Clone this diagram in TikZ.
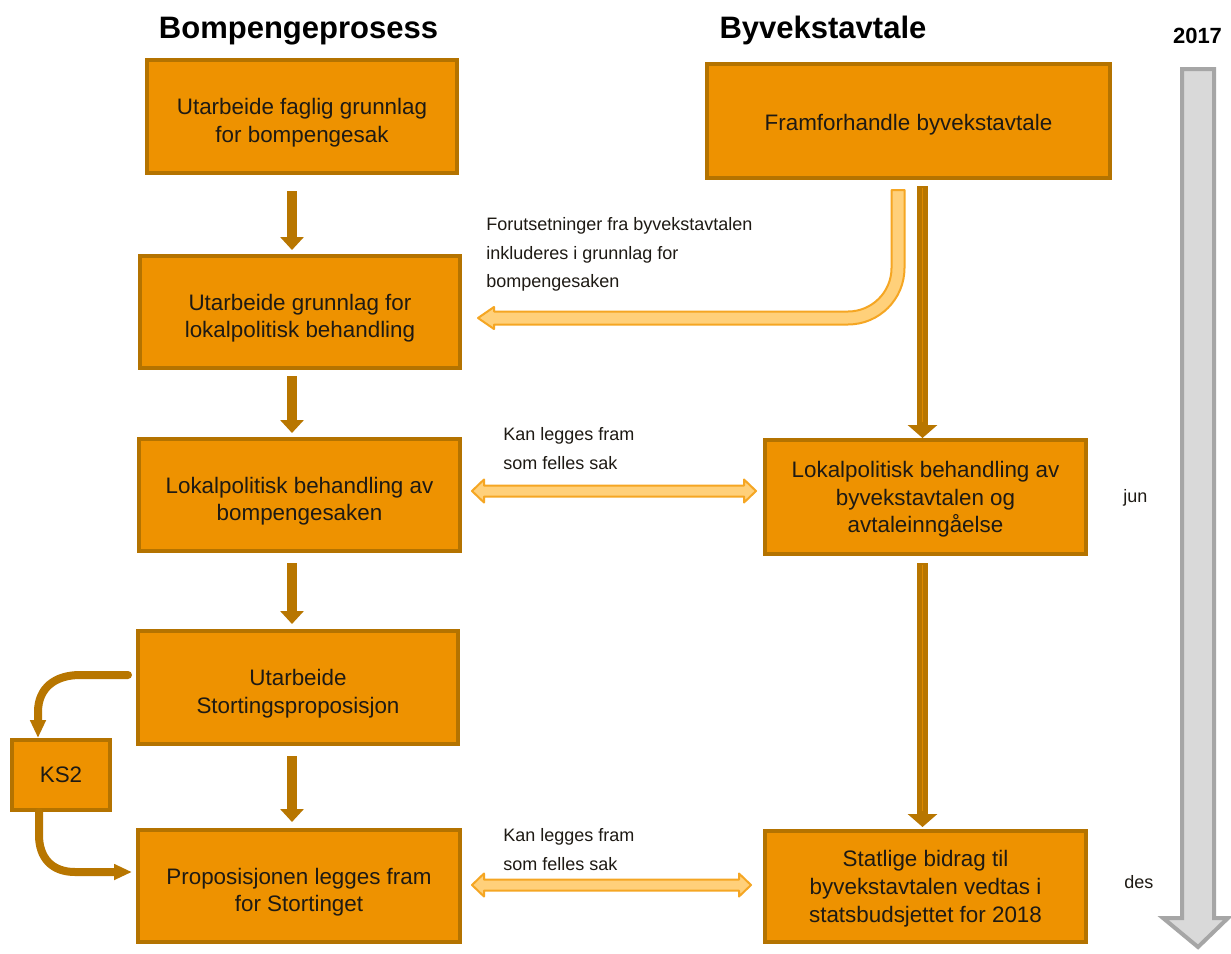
\documentclass[tikz,border=0pt]{standalone}
\usepackage{fontspec}
\setmainfont{Liberation Sans}
\usetikzlibrary{arrows.meta,calc}
\definecolor{boxfill}{HTML}{EE9200}
\definecolor{boxline}{HTML}{B47300}
\definecolor{brownarr}{HTML}{B87600}
\definecolor{lightfill}{HTML}{FFD07A}
\definecolor{lightline}{HTML}{F5A623}
\definecolor{grayfill}{HTML}{D9D9D9}
\definecolor{grayline}{HTML}{A6A6A6}
\definecolor{txt}{HTML}{1E1A14}
\newcommand{\upstrut}{\rule{0pt}{14.5pt}}
\newcommand{\lowstrut}{\rule{0pt}{10.4pt}}
\newcommand{\dblarrow}[2]{%
  \draw[lightarr] (#1) -- ($(#1)+(12,-11.5)$) -- ($(#1)+(12,-5.5)$) -- ($(#1)+({#2-12},-5.5)$)
   -- ($(#1)+({#2-12},-11.5)$) -- ($(#1)+(#2,0)$) -- ($(#1)+({#2-12},11.5)$) -- ($(#1)+({#2-12},5.5)$)
   -- ($(#1)+(12,5.5)$) -- ($(#1)+(12,11.5)$) -- cycle;}
\begin{document}
\begin{tikzpicture}[x=0.5pt,y=-0.5pt,
  box/.style={draw=boxline, line width=2pt, fill=boxfill, align=center, text=txt,
    font=\fontsize{11.2}{13.8}\selectfont, inner sep=0pt},
  note/.style={align=left, anchor=north west, inner sep=0pt, text=txt,
    font=\fontsize{9}{14.3}\selectfont},
  title/.style={anchor=base, inner sep=0pt, font=\fontsize{15.5}{18}\selectfont\bfseries},
  small/.style={anchor=base west, inner sep=0pt, text=txt, font=\fontsize{9}{11}\selectfont},
  darr/.style={draw=brownarr, line width=5pt, -{Triangle[width=11.5pt,length=6.5pt]}},
  rarr/.style={draw=brownarr, line width=5.5pt, -{Triangle[width=14.5pt,length=6.5pt]}},
  carr/.style={draw=brownarr, line width=4pt, line cap=round, -{Triangle[width=7.5pt,length=9pt]}},
  midline/.style={draw=boxfill!70!brownarr, line width=0.6pt},
  lightarr/.style={draw=lightline, line width=1pt, fill=lightfill, line join=round},
]
\useasboundingbox (0,0) rectangle (1231,953);
\fill[white] (0,0) rectangle (1231,953);

% titles
\node[title] (t1) at (298.5,39) {Bompengeprosess};
\node[title] (t2) at (823,39) {Byvekstavtale};
\node[anchor=base, inner sep=0pt, font=\fontsize{11}{13}\selectfont\bfseries] (t3) at (1197.5,43) {2017};

% timeline arrow
\draw[draw=grayline, fill=grayfill, line width=2pt, line join=miter]
  (1182,69) -- (1214,69) -- (1214,918) -- (1228,918) -- (1198,947) -- (1163,918) -- (1182,918) -- cycle;
\node[small] (jun) at (1123,502) {jun};
\node[small] (des) at (1124,888) {des};

% boxes
\node[box, minimum width=155pt, minimum height=56.5pt] (B1) at (302,116.5) {\upstrut Utarbeide faglig grunnlag\\for bompengesak};
\node[box, minimum width=160pt, minimum height=56pt] (B2) at (300,312) {\upstrut Utarbeide grunnlag for\\lokalpolitisk behandling};
\node[box, minimum width=160.5pt, minimum height=56pt] (B3) at (299.5,495) {\upstrut Lokalpolitisk behandling av\\bompengesaken};
\node[box, minimum width=160pt, minimum height=56.5pt] (B4) at (298,687.5) {\upstrut Utarbeide\\Stortingsproposisjon};
\node[box, minimum width=161pt, minimum height=56pt] (B5) at (299,886) {\upstrut Proposisjonen legges fram\\for Stortinget};
\node[box, minimum width=201.5pt, minimum height=57pt] (R1) at (908.5,121) {\rule{0pt}{12pt}Framforhandle byvekstavtale};
\node[box, minimum width=160.5pt, minimum height=57pt] (R2) at (925.5,497) {\lowstrut Lokalpolitisk behandling av\\byvekstavtalen og\\avtaleinngåelse};
\node[box, minimum width=160.5pt, minimum height=55.5pt] (R3) at (925.5,886.5) {\lowstrut Statlige bidrag til\\byvekstavtalen vedtas i\\statsbudsjettet for 2018};
\node[box, minimum width=49pt, minimum height=35pt] (KS2) at (61,775) {KS2};

% left column arrows
\coordinate (lx) at (292,0);
\draw[darr, shorten <=8pt, shorten >=2pt] (B1.south -| lx) -- (B2.north -| lx);
\draw[darr, shorten <=3pt, shorten >=2pt] (B2.south -| lx) -- (B3.north -| lx);
\draw[darr, shorten <=5pt, shorten >=2.5pt] (B3.south -| lx) -- (B4.north -| lx);
\draw[darr, shorten <=5pt, shorten >=3pt] (B4.south -| lx) -- (B5.north -| lx);

% right column arrows
\coordinate (rx) at (922.5,0);
\draw[rarr, shorten <=3pt, shorten >=0pt] (R1.south -| rx) -- (R2.north -| rx);
\draw[midline, shorten <=4pt, shorten >=8pt] (R1.south -| rx) -- (R2.north -| rx);
\draw[rarr, shorten <=3.5pt, shorten >=1pt] (R2.south -| rx) -- (R3.north -| rx);
\draw[midline, shorten <=4.5pt, shorten >=9pt] (R2.south -| rx) -- (R3.north -| rx);

% KS2 curved arrows
\coordinate (k1) at ($(B4.west)+(-8,-12.5)$);
\coordinate (k2) at ($(KS2.north)+(-23,0)$);
\draw[carr] (k1) -- ($(k1)+(-48,0)$) .. controls ($(k1)+(-73,0)$) and ($(k1)+(-90,13)$) .. ($(k1)+(-90,37)$) -- (k2);
\coordinate (k3) at ($(KS2.south)+(-22,0)$);
\coordinate (k4) at ($(B5.west)+(-4,-14)$);
\draw[carr] (k3) -- ($(k3)+(0,23)$) .. controls ($(k3)+(0,46)$) and ($(k3)+(13,60)$) .. ($(k3)+(36,60)$) -- (k4);

% light curved arrow
\coordinate (L1) at ($(R1.south)+(-10.5,10)$);
\draw[lightarr] ($(L1)+(-6.5,0)$) -- ($(L1)+(6.5,0)$) -- ($(L1)+(6.5,78)$)
  .. controls ($(L1)+(6.5,109.2)$) and ($(L1)+(-18.8,134.5)$) .. ($(L1)+(-50,134.5)$)
  -- ($(L1)+(-404,134.5)$) -- ($(L1)+(-404,139)$) -- ($(L1)+(-420,128)$) -- ($(L1)+(-404,117)$)
  -- ($(L1)+(-404,121.5)$) -- ($(L1)+(-50,121.5)$)
  .. controls ($(L1)+(-26,121.5)$) and ($(L1)+(-6.5,102)$) .. ($(L1)+(-6.5,78)$) -- cycle;
\node[note] (n1) at (486,217) {Forutsetninger fra byvekstavtalen\\inkluderes i grunnlag for\\bompengesaken};

% double arrows
\coordinate (D1) at ($(B3.east)+(10,-4)$);
\dblarrow{D1}{284}
\node[note] (n2) at (503,427) {Kan legges fram\\som felles sak};
\coordinate (D2) at ($(B5.east)+(10,-1)$);
\dblarrow{D2}{279}
\node[note] (n3) at (503,828) {Kan legges fram\\som felles sak};
\end{tikzpicture}
\end{document}
